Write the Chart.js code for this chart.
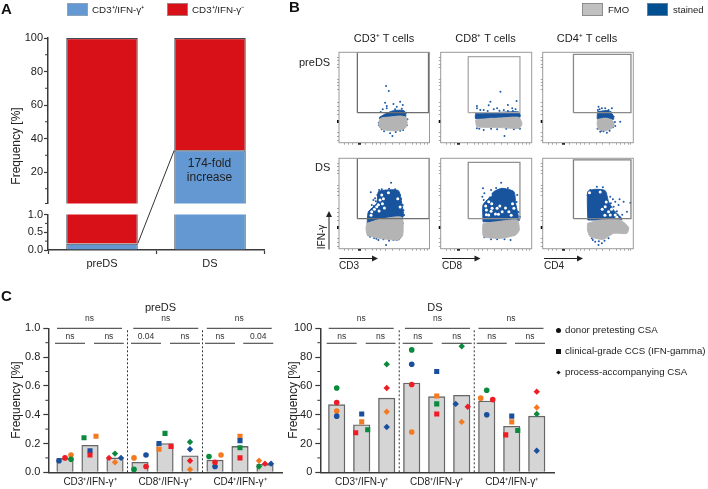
<!DOCTYPE html>
<html>
<head>
<meta charset="utf-8">
<script src="https://cdn.jsdelivr.net/npm/chart.js@4"></script>
<style>
  html, body { margin: 0; padding: 0; background: #fff; }
  #page { position: relative; width: 708px; height: 489px; overflow: hidden;
          font-family: "Liberation Sans", Arial, sans-serif; color: #222; }
  canvas { position: absolute; left: 0; top: 0; }
  .t { position: absolute; white-space: nowrap; line-height: 14px; z-index: 5; }
  .c { transform: translateX(-50%); }
  .rot { transform: translate(-50%, -50%) rotate(-90deg); }
  .swatch { position: absolute; width: 19px; height: 11px; z-index: 5; box-sizing: content-box; }
  .panel { font-weight: bold; font-size: 15px; color: #111; }
  .mark { position: absolute; background: #111; z-index: 5; }
  svg { position: absolute; left: 0; top: 0; z-index: 5; }
</style>
</head>
<body>
<div id="page">
  <div class="t panel" style="left:1px;top:2px">A</div>
  <div class="t panel" style="left:289px;top:0px">B</div>
  <div class="t panel" style="left:1px;top:289px">C</div>

  <div class="swatch" style="left:67px;top:3px;background:#6398d3;border:1px solid #8fa3b8"></div>
  <div class="t" style="left:92px;top:3px;font-size:9.8px">CD3⁺/IFN-γ⁺</div>
  <div class="swatch" style="left:167px;top:3px;background:#d81018;border:1px solid #b0787a"></div>
  <div class="t" style="left:192px;top:3px;font-size:9.8px">CD3⁺/IFN-γ⁻</div>

  <div class="t rot" style="left:16px;top:146px;font-size:12px">Frequency [%]</div>
  <div class="t c" style="left:209.5px;top:156px;font-size:12px">174-fold</div>
  <div class="t c" style="left:209.5px;top:170px;font-size:12px">increase</div>

  <div class="swatch" style="left:582px;top:3px;background:#c0c0c0;border:1px solid #8c8c8c"></div>
  <div class="t" style="left:608px;top:3px;font-size:9.5px">FMO</div>
  <div class="swatch" style="left:647px;top:3px;background:#004f91;border:1px solid #5f7f9f"></div>
  <div class="t" style="left:673px;top:3px;font-size:9.5px">stained</div>

  <div class="t c" style="left:384px;top:31px;font-size:11px">CD3⁺ T cells</div>
  <div class="t c" style="left:485.5px;top:31px;font-size:11px">CD8⁺ T cells</div>
  <div class="t c" style="left:587px;top:31px;font-size:11px">CD4⁺ T cells</div>
  <div class="t" style="left:299px;top:55px;font-size:11px">preDS</div>
  <div class="t" style="left:315px;top:160px;font-size:11px">DS</div>
  <div class="t rot" style="left:322px;top:237px;font-size:10px">IFN-γ</div>
  <div class="t" style="left:339px;top:259px;font-size:10px">CD3</div>
  <div class="t" style="left:442px;top:259px;font-size:10px">CD8</div>
  <div class="t" style="left:544px;top:259px;font-size:10px">CD4</div>
  <svg width="708" height="489">
    <g stroke="#222" stroke-width="1" fill="#222">
      <line x1="329" y1="249.5" x2="329" y2="213"/><path d="M329 211l-3 6h6z" stroke="none"/>
      <line x1="339.5" y1="258.5" x2="374" y2="258.5"/><path d="M378 258.5l-6-3v6z" stroke="none"/>
      <line x1="442" y1="258.5" x2="476" y2="258.5"/><path d="M480.5 258.5l-6-3v6z" stroke="none"/>
      <line x1="544" y1="258.5" x2="578" y2="258.5"/><path d="M583 258.5l-6-3v6z" stroke="none"/>
    </g>
  </svg>

  <div class="t c" style="left:160.5px;top:300px;font-size:11px">preDS</div>
  <div class="t c" style="left:435px;top:300px;font-size:11px">DS</div>
  <div class="t rot" style="left:16px;top:400px;font-size:12px">Frequency [%]</div>
  <div class="t rot" style="left:293px;top:400px;font-size:12px">Frequency [%]</div>

  <div class="mark" style="left:556px;top:328px;width:5px;height:5px;border-radius:50%"></div>
  <div class="t" style="left:565px;top:323px;font-size:9.7px">donor pretesting CSA</div>
  <div class="mark" style="left:556px;top:349px;width:4.5px;height:4.5px"></div>
  <div class="t" style="left:565px;top:344px;font-size:9.7px">clinical-grade CCS (IFN-gamma)</div>
  <div class="mark" style="left:557px;top:370.5px;width:3px;height:3px;transform:rotate(45deg)"></div>
  <div class="t" style="left:565px;top:365px;font-size:9.7px">process-accompanying CSA</div>
</div>

<script>
// panel A
const stackLabels = ["preDS", "DS"];
const ifnPositive = [0.18, 33];
const ifnNegative = [99.82, 67];
const upperTicks = [20, 40, 60, 80, 100];
const upperMinor = [10, 30, 50, 70, 90];
const lowerTicks = [0, 0.5, 1];
const lowerMinor = [0.25, 0.75];

// panel C
const cellLabels = ["", "CD3⁺/IFN-γ⁺", "", "", "CD8⁺/IFN-γ⁺", "", "", "CD4⁺/IFN-γ⁺", ""];
const preBars = [0.097, 0.188, 0.1, 0.07, 0.2, 0.115, 0.085, 0.18, 0.055];
const preGreen = [0.09, 0.24, 0.13, 0.02, 0.27, 0.21, 0.11, 0.17, 0.04];
const preRed = [0.1, 0.12, 0.1, 0.04, 0.18, 0.08, 0.07, 0.1, 0.06];
const preBlue = [0.08, 0.15, 0.1, 0.12, 0.2, 0.16, 0.04, 0.22, 0.06];
const preOrange = [0.12, 0.25, 0.07, 0.1, 0.16, 0.02, 0.12, 0.25, 0.08];
const preGreenX = [0.24, -0.24, 0, -0.24, 0, 0, -0.24, 0, -0.24];
const preRedX = [0, 0, -0.24, 0.24, 0.24, 0, 0, 0, 0];
const preBlueX = [-0.24, 0, 0.24, 0.24, -0.24, 0, 0, 0, 0.24];
const preOrangeX = [0.24, 0.24, 0, -0.24, -0.24, 0, 0.24, 0, -0.24];

const dsBars = [47, 33, 51.5, 62, 52.5, 53.5, 49.5, 32, 39];
const dsGreen = [58.5, 29.5, 75, 85, 47.5, 87.5, 57, 29, 40.5];
const dsRed = [48.5, 27.5, 58.5, 61, 40.5, 45.5, 50.5, 26, 56];
const dsBlue = [39, 40.5, 31.5, 75, 70, 47.5, 40, 39, 15];
const dsOrange = [42.5, 35, 42, 28, 53, 35, 51.5, 35, 45];
const dsGreenX = [0, 0.24, 0, 0, 0, 0, 0, 0.24, 0];
const dsRedX = [0, -0.24, 0, 0, 0, 0.24, 0.24, -0.24, 0];
const dsBlueX = [0, 0, 0, 0, 0, -0.24, 0, 0, 0];
const dsOrangeX = [0, 0, 0, 0, 0, 0, -0.24, 0, 0];

const topSpans = [[-0.32, 2.28], [2.73, 5.33], [5.67, 8.27]];
const lowSpans = [[-0.4, 0.8], [1.16, 2.35], [2.64, 3.84], [4.2, 5.4], [5.6, 6.8], [7.13, 8.33]];
const topLabels = ["ns", "ns", "ns"];
const preLowLabels = ["ns", "ns", "0.04", "ns", "ns", "0.04"];
const dsLowLabels = ["ns", "ns", "ns", "ns", "ns", "ns"];
const separators = [2.5, 5.5];

// panel B in picture units (0-272 across each frame)
const flowPanels = [
  {
    box: [339, 429.5, 52.3, 142.7], thick: 61, gateColor: "#6e6e6e",
    gate: [[55, 90], [55, 271], [268, 271], [268, 90], [55, 90]],
    grey: [[119, 63], [126, 74], [153, 77], [183, 80], [201, 76], [204, 58], [198, 43], [173, 36], [143, 37], [123, 44], [119, 63]],
    blue: [[121, 76], [138, 86], [163, 96], [195, 96], [200, 78], [173, 79], [148, 76], [123, 70], [121, 76]],
    dots: [[141, 170], [149, 155], [138, 120], [183, 123], [191, 113], [163, 116], [173, 108], [131, 100], [143, 103], [123, 48], [128, 40], [160, 20], [153, 28], [183, 36], [119, 60], [201, 90], [143, 110], [168, 100], [125, 92], [188, 102], [120, 52], [135, 34], [170, 32], [192, 38], [205, 70], [203, 52]],
    holes: [],
  },
  {
    box: [440.7, 531.7, 52.3, 142.7], thick: 53, gateColor: "#a8a8a8",
    gate: [[82, 90], [82, 258], [236, 258], [236, 90], [82, 90]],
    grey: [[104, 68], [118, 70], [168, 73], [233, 76], [242, 56], [233, 43], [168, 46], [108, 48], [104, 68]],
    blue: [[104, 88], [158, 90], [233, 92], [236, 76], [168, 76], [104, 72], [104, 88]],
    dots: [[178, 153], [148, 123], [143, 112], [226, 125], [200, 113], [213, 103], [108, 103], [128, 98], [168, 103], [188, 98], [108, 43], [128, 38], [190, 20], [168, 40], [218, 40], [233, 48], [158, 100], [108, 110], [118, 98], [223, 100], [140, 95], [175, 96], [200, 95], [215, 95], [150, 42], [195, 42], [115, 42], [236, 42]],
    holes: [],
  },
  {
    box: [542.7, 633.3, 52.3, 142.7], thick: 62, gateColor: "#8a8a8a",
    gate: [[92, 90], [92, 265], [264, 265], [264, 90], [92, 90]],
    grey: [[164, 70], [187, 73], [207, 68], [214, 56], [207, 43], [187, 36], [167, 40], [163, 56], [164, 70]],
    blue: [[164, 93], [197, 96], [210, 83], [212, 70], [187, 76], [164, 70], [164, 93]],
    dots: [[167, 108], [177, 103], [187, 103], [207, 103], [197, 98], [232, 63], [217, 50], [172, 33], [192, 30], [182, 34], [170, 100], [212, 78], [165, 98], [203, 92], [216, 62], [210, 46], [176, 36], [200, 36], [164, 42]],
    holes: [],
  },
  {
    box: [339, 429.5, 158.3, 248.7], thick: 61, gateColor: "#6e6e6e",
    gate: [[55, 90], [55, 271], [270, 271], [270, 90], [55, 90]],
    grey: [[83, 76], [123, 88], [188, 94], [191, 41], [178, 26], [123, 31], [85, 41], [81, 61], [83, 76]],
    blue: [[85, 86], [88, 111], [113, 136], [118, 171], [143, 176], [178, 174], [188, 136], [191, 94], [123, 90], [85, 76], [85, 86]],
    dots: [[156, 198], [95, 169], [108, 151], [98, 131], [91, 111], [183, 161], [191, 131], [195, 101], [118, 26], [141, 11], [93, 36], [163, 26], [173, 26], [133, 28], [191, 76], [103, 146], [115, 161], [168, 178], [104, 128], [110, 142], [120, 176], [128, 178], [150, 180], [186, 150], [193, 115], [105, 32], [150, 24], [180, 28], [88, 40], [112, 30]],
    holes: [[98, 111], [113, 126], [123, 146], [128, 161], [106, 118], [118, 132], [133, 150], [96, 100], [130, 135], [148, 168], [176, 150], [183, 125], [120, 113], [136, 122]],
  },
  {
    box: [440.7, 531.7, 158.3, 248.7], thick: 53, gateColor: "#909090",
    gate: [[82, 90], [82, 259], [236, 259], [236, 90], [82, 90]],
    grey: [[126, 76], [168, 81], [228, 86], [234, 56], [223, 41], [178, 31], [128, 36], [125, 56], [126, 76]],
    blue: [[126, 81], [126, 131], [143, 151], [158, 171], [183, 181], [218, 171], [223, 136], [230, 86], [168, 80], [126, 81]],
    dots: [[180, 198], [126, 181], [130, 166], [228, 161], [233, 86], [168, 28], [130, 34], [208, 26], [218, 41], [124, 156], [128, 146], [150, 176], [165, 182], [200, 182], [226, 140], [232, 110], [236, 96], [150, 28], [190, 28], [138, 144]],
    holes: [[143, 141], [153, 121], [136, 116], [168, 121], [183, 111], [163, 104], [203, 111], [218, 121], [143, 101], [148, 161], [134, 128], [152, 135], [176, 128], [193, 122], [210, 100], [150, 112], [172, 103], [214, 135], [136, 102]],
  },
  {
    box: [542.7, 633.3, 158.3, 248.7], thick: 62, gateColor: "#808080",
    gate: [[92, 90], [92, 266], [264, 266], [264, 90], [92, 90]],
    grey: [[134, 76], [172, 86], [232, 86], [257, 64], [252, 46], [212, 46], [182, 28], [142, 36], [134, 56], [134, 76]],
    blue: [[135, 86], [135, 171], [157, 178], [187, 174], [197, 141], [212, 116], [237, 88], [172, 86], [135, 86]],
    dots: [[162, 186], [180, 184], [230, 148], [242, 141], [262, 138], [217, 141], [227, 131], [252, 111], [167, 11], [157, 21], [177, 16], [147, 31], [197, 31], [212, 126], [202, 156], [210, 148], [222, 112], [238, 102], [204, 136], [150, 26], [168, 22], [185, 24], [142, 176], [134, 160]],
    holes: [[197, 111], [202, 101], [187, 126], [217, 101], [190, 140], [178, 118], [206, 118], [186, 100], [222, 94], [140, 168], [172, 170]],
  },
];
const flowTicksX = [16, 28, 40, 80, 100, 112, 124, 140, 160, 180, 200, 220, 232, 244, 256, 264];
const flowTicksY = [8, 20, 30, 63, 85, 98, 108, 120, 160, 170, 180, 190, 225, 235, 245, 255];

const AXIS = "#3a3a3a";
const W = 708, H = 489;
// tick labels are clipped to the scale box, so the boxes need a real size
const Y_BOX = 30, X_BOX = 16;

Chart.defaults.font.family = '"Liberation Sans", Arial, sans-serif';
Chart.defaults.color = "#222";

// every chart gets a page sized canvas and its plot box is set with padding
function newChart(cfg, left, right, top, bottom) {
  const canvas = document.createElement("canvas");
  canvas.width = W;
  canvas.height = H;
  canvas.style.width = W + "px";
  canvas.style.height = H + "px";
  document.getElementById("page").appendChild(canvas);
  const xBox = cfg.options.scales.x.display === false ? 0 : X_BOX;
  cfg.options = Object.assign({
    responsive: false,
    animation: false,
    devicePixelRatio: 1,
    events: [],
    layout: { padding: { left: left - Y_BOX, top, right: W - right, bottom: H - bottom - xBox } },
  }, cfg.options);
  cfg.options.plugins = Object.assign({ legend: { display: false }, tooltip: { enabled: false } }, cfg.options.plugins);
  return new Chart(canvas.getContext("2d"), cfg);
}

const fixY = (s) => { s.width = Y_BOX; };
const fixX = (s) => { s.height = X_BOX; };

function valueAxis(min, max, ticks, fmt, tickLength, pad) {
  return {
    min, max,
    afterFit: fixY,
    afterBuildTicks: (s) => { s.ticks = ticks.map((v) => ({ value: v })); },
    border: { color: AXIS, width: 1.5 },
    grid: { drawOnChartArea: false, tickLength, tickColor: AXIS, tickWidth: 1.2 },
    ticks: { padding: pad, font: { size: 11 }, color: "#222", callback: fmt },
  };
}

const minorTicks = {
  id: "minorTicks",
  afterDraw(chart, args, opts) {
    const s = chart.scales.y, c = chart.ctx;
    c.save();
    c.strokeStyle = AXIS;
    c.lineWidth = 1;
    for (const v of opts.values) {
      const y = s.getPixelForValue(v);
      c.beginPath();
      c.moveTo(s.right, y);
      c.lineTo(s.right - 3, y);
      c.stroke();
    }
    c.restore();
  },
};

// panel A, upper part of the broken axis
const upperChart = newChart({
  type: "bar",
  data: {
    labels: stackLabels,
    datasets: [
      { data: ifnPositive, backgroundColor: "#6398d3", borderColor: "#3f4a55", borderWidth: 1.2, barPercentage: 0.662, categoryPercentage: 1 },
      { data: ifnNegative, backgroundColor: "#d81018", borderColor: "#3f4a55", borderWidth: 1.2, barPercentage: 0.662, categoryPercentage: 1 },
    ],
  },
  options: {
    scales: {
      x: { stacked: true, display: false },
      y: Object.assign(valueAxis(1.2, 100, upperTicks, (v) => v, 4, 1), { stacked: true }),
    },
    plugins: { minorTicks: { values: upperMinor.concat([1.2]) } },
  },
  plugins: [minorTicks],
}, 48, 264, 38, 203.5);

// line from the preDS positive fraction to the DS positive fraction
const foldLine = {
  id: "foldLine",
  afterDatasetsDraw(chart) {
    const c = chart.ctx;
    const bars = chart.getDatasetMeta(0).data;
    c.save();
    c.strokeStyle = "#333";
    c.lineWidth = 1;
    c.beginPath();
    c.moveTo(bars[0].x + bars[0].width / 2, chart.scales.y.getPixelForValue(ifnPositive[0]));
    c.lineTo(bars[1].x - bars[1].width / 2, upperChart.scales.y.getPixelForValue(ifnPositive[1]));
    c.stroke();
    c.restore();
  },
};

newChart({
  type: "bar",
  data: {
    labels: stackLabels,
    datasets: [
      { data: ifnPositive, backgroundColor: "#6398d3", borderColor: "#3f4a55", borderWidth: 1.2, barPercentage: 0.662, categoryPercentage: 1 },
      { data: ifnNegative, backgroundColor: "#d81018", borderColor: "#3f4a55", borderWidth: 1.2, barPercentage: 0.662, categoryPercentage: 1 },
    ],
  },
  options: {
    scales: {
      x: {
        stacked: true,
        afterFit: (s) => { s.height = 20; },
        border: { color: AXIS, width: 1.5 },
        grid: { drawOnChartArea: false, tickLength: 4, tickColor: AXIS, tickWidth: 1.2 },
        ticks: { padding: 3, font: { size: 11 }, color: "#222", maxRotation: 0 },
      },
      y: Object.assign(valueAxis(0, 1, lowerTicks, (v) => v.toFixed(1), 4, 1), { stacked: true }),
    },
    layout: { padding: { left: 48 - Y_BOX, top: 214.5, right: W - 264, bottom: H - 250 - 20 } },
    plugins: { minorTicks: { values: lowerMinor } },
  },
  plugins: [minorTicks, foldLine],
}, 48, 264, 214.5, 250);

// panel B
const frameBox = {
  id: "frameBox",
  afterDraw(chart) {
    const a = chart.chartArea, c = chart.ctx;
    c.save();
    c.strokeStyle = "#9a9a9a";
    c.lineWidth = 1;
    c.strokeRect(a.left, a.top, a.right - a.left, a.bottom - a.top);
    c.restore();
  },
};

const toXY = (pairs) => pairs.map((p) => ({ x: p[0], y: p[1] }));

function flowAxis(ticks, thick, afterFit) {
  return {
    min: 0, max: 271,
    afterFit,
    afterBuildTicks: (s) => { s.ticks = ticks.map((v) => ({ value: v })); },
    border: { display: false },
    grid: {
      drawOnChartArea: false,
      tickLength: 2,
      tickColor: (ctx) => (ctx.tick && ctx.tick.value === thick ? "#111" : "#a8a8a8"),
      tickWidth: (ctx) => (ctx.tick && ctx.tick.value === thick ? 3 : 1),
    },
    ticks: { display: false },
  };
}

for (const p of flowPanels) {
  newChart({
    type: "scatter",
    data: {
      datasets: [
        { data: toXY(p.gate), showLine: true, pointRadius: 0, borderColor: p.gateColor, borderWidth: 1.3, fill: false },
        { data: toXY(p.grey), showLine: true, pointRadius: 0, borderColor: "#b4b4b4", borderWidth: 1, backgroundColor: "#b4b4b4", fill: "shape", tension: 0.2 },
        { data: toXY(p.holes), pointRadius: 1.5, backgroundColor: "#fff", borderWidth: 0 },
        { data: toXY(p.dots), pointRadius: 1, backgroundColor: "#1d5aa6", borderWidth: 0 },
        { data: toXY(p.blue), showLine: true, pointRadius: 0, borderColor: "#18549e", borderWidth: 1, backgroundColor: "#18549e", fill: "shape", tension: 0.2 },
      ],
    },
    options: {
      scales: {
        x: flowAxis(flowTicksX.concat([p.thick]), p.thick, fixX),
        y: flowAxis(flowTicksY, 63, fixY),
      },
    },
    plugins: [frameBox],
  }, p.box[0], p.box[1], p.box[2], p.box[3]);
}

// panel C
const signifs = {
  id: "signifs",
  afterDraw(chart, args, opts) {
    const c = chart.ctx, xs = chart.scales.x, ys = chart.scales.y;
    const top = ys.max;
    c.save();
    c.strokeStyle = "#333";
    c.fillStyle = "#333";
    c.lineWidth = 1;
    c.setLineDash([2, 2]);
    for (const v of separators) {
      c.beginPath();
      c.moveTo(xs.getPixelForValue(v), ys.getPixelForValue(0));
      c.lineTo(xs.getPixelForValue(v), ys.getPixelForValue(top));
      c.stroke();
    }
    c.setLineDash([]);
    c.font = '8.5px "Liberation Sans", Arial, sans-serif';
    c.textAlign = "center";
    c.textBaseline = "middle";
    topSpans.forEach((sp, i) => {
      const y = ys.getPixelForValue(top);
      c.beginPath();
      c.moveTo(xs.getPixelForValue(sp[0]), y);
      c.lineTo(xs.getPixelForValue(sp[1]), y);
      c.stroke();
      c.fillText(topLabels[i], xs.getPixelForValue((sp[0] + sp[1]) / 2), ys.getPixelForValue(top * 1.065));
    });
    lowSpans.forEach((sp, i) => {
      const y = ys.getPixelForValue(top * 0.896);
      c.beginPath();
      c.moveTo(xs.getPixelForValue(sp[0]), y);
      c.lineTo(xs.getPixelForValue(sp[1]), y);
      c.stroke();
      c.fillText(opts.lowLabels[i], xs.getPixelForValue((sp[0] + sp[1]) / 2), ys.getPixelForValue(top * 0.942));
    });
    c.restore();
  },
};

const pointShapes = ["circle", "rect", "rectRot"];
const pointSizes = [2.8, 3.6, 3.2];

function donorDots(values, offsets, color) {
  return {
    type: "scatter",
    data: values.map((v, i) => ({ x: i + offsets[i], y: v })),
    backgroundColor: color,
    borderWidth: 0,
    pointStyle: values.map((v, i) => pointShapes[i % 3]),
    pointRadius: values.map((v, i) => pointSizes[i % 3]),
  };
}

function frequencyChart(bars, dots, yMax, yTicks, yMinor, fmt, lowLabels, xMin, xMax, box) {
  newChart({
    type: "bar",
    data: {
      datasets: dots.concat([{
        type: "bar",
        data: bars.map((v, i) => ({ x: i, y: v })),
        backgroundColor: "#d5d5d5",
        borderColor: "#666",
        borderWidth: 1.4,
        barThickness: 16.5,
      }]),
    },
    options: {
      scales: {
        x: {
          type: "linear",
          min: xMin, max: xMax,
          offset: false,
          afterFit: fixX,
          afterBuildTicks: (s) => { s.ticks = [1, 4, 7].map((v) => ({ value: v })); },
          border: { color: AXIS, width: 1.5 },
          grid: { display: false, drawTicks: false },
          ticks: { padding: 4, font: { size: 10 }, color: "#222", maxRotation: 0, autoSkip: false, callback: (v) => cellLabels[v] },
        },
        y: valueAxis(0, yMax, yTicks, fmt, 5, 3),
      },
      plugins: { minorTicks: { values: yMinor }, signifs: { lowLabels } },
    },
    plugins: [minorTicks, signifs],
  }, box[0], box[1], box[2], box[3]);
}

frequencyChart(preBars, [
  donorDots(preGreen, preGreenX, "#0a8a3c"),
  donorDots(preRed, preRedX, "#ee1c25"),
  donorDots(preBlue, preBlueX, "#1a4f9c"),
  donorDots(preOrange, preOrangeX, "#f47a22"),
], 1, [0, 0.2, 0.4, 0.6, 0.8, 1], [0.1, 0.3, 0.5, 0.7, 0.9], (v) => v.toFixed(1), preLowLabels, -0.668, 8.708, [48.3, 282.7, 328.3, 472.3]);

frequencyChart(dsBars, [
  donorDots(dsGreen, dsGreenX, "#0a8a3c"),
  donorDots(dsRed, dsRedX, "#ee1c25"),
  donorDots(dsBlue, dsBlueX, "#1a4f9c"),
  donorDots(dsOrange, dsOrangeX, "#f47a22"),
], 100, [0, 20, 40, 60, 80, 100], [10, 30, 50, 70, 90], (v) => v, dsLowLabels, -0.656, 8.69, [320.3, 554, 328.3, 472.3]);
</script>
</body>
</html>
